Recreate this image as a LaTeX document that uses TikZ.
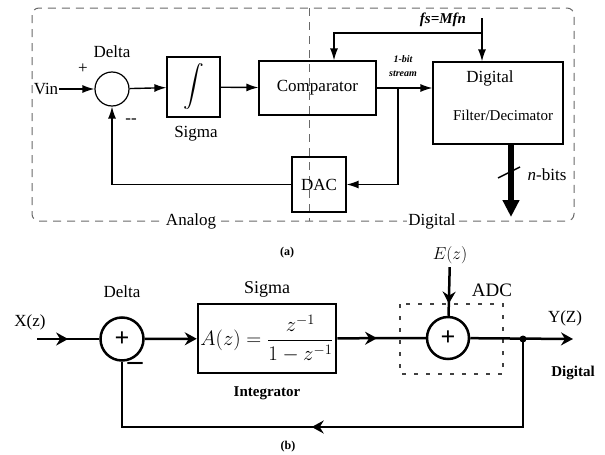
\documentclass[tikz,border=0pt]{standalone}
\usepackage{amsmath}
\usepackage{fontspec}
\setmainfont{Liberation Serif}
\usetikzlibrary{arrows.meta,decorations.markings,calc}

\definecolor{bordergray}{RGB}{105,105,105}

\tikzset{
  txt/.style={font=\fontsize{17}{20}\selectfont, inner sep=1pt},
  blocka/.style={draw, line width=1.2pt, inner sep=0pt},
  sig/.style={line width=1.4pt, -{Latex[length=12pt,width=8pt]}},
  border/.style={bordergray, line width=1pt, dash pattern=on 8pt off 6pt},
  blockb/.style={draw, line width=2.5pt, inner sep=0pt},
  wireb/.style={line width=2.5pt},
  tipb/.style={-{Stealth[length=12pt,width=13pt,inset=4pt]}},
  midarr/.style={decoration={markings,
      mark=at position #1 with {\arrow{Stealth[length=12pt,width=13pt,inset=4pt]}}},
    postaction={decorate}},
  boldlbl/.style={font=\bfseries\fontsize{15}{18}\selectfont, inner sep=1pt},
}

\begin{document}
\begin{tikzpicture}[x=1pt, y=-1pt]
  \useasboundingbox (0,0) rectangle (605,455);

  % ---------------- (a) ----------------
  % Frame split into analog and digital halves
  \draw[border, rounded corners=7pt] (32,8) rectangle (574,221);
  \draw[border] (309,8) -- (309,221);
  \node[txt, fill=white] at (191,221) {Analog};
  \node[txt, fill=white] at (432,221) {Digital};

  % Blocks
  \node[circle, draw, line width=1.2pt, minimum size=34pt, inner sep=0pt] (sumA) at (112,89) {};
  \node[txt] at (112,52) {Delta};
  \node[txt] at (83,69) {+};
  \node[txt] at (131,121) {-{}-};
  \node[txt] (vin) at (46,89) {Vin};
  \node[blocka, minimum width=53pt, minimum height=60pt] (intA) at (193.5,87)
    {\fontsize{22}{22}\selectfont$\displaystyle\int$};
  \node[txt] at (196,134) {Sigma};
  \node[blocka, txt, minimum width=117pt, minimum height=54pt] (compA) at (317.5,88) {Comparator};
  \node[blocka, minimum width=130pt, minimum height=82pt] (filtA) at (498,103) {};
  \node[txt] at (490,78) {Digital};
  \node[txt, font=\fontsize{15}{18}\selectfont] at (503,115) {Filter/Decimator};
  \node[blocka, txt, minimum width=54pt, minimum height=55pt] (dacA) at (319,184.5) {DAC};

  % Signal path
  \draw[sig] (vin) -- (sumA);
  \draw[sig] (sumA) -- (intA);
  \draw[sig] (intA) -- (compA);
  \draw[sig] (compA.east) -- (compA.east -| filtA.west);
  \coordinate (br) at (398,88);
  \draw[sig] (br) |- (dacA.east);
  \draw[sig] (dacA.west) -| (sumA.south);
  \node[font=\bfseries\itshape\fontsize{10}{14}\selectfont, align=center] at (403,66) {1-bit\\stream};

  % Clock
  \coordinate (clk) at (482,18);
  \coordinate (clkT) at (482,33);
  \draw[sig] (clk) -- (clk |- filtA.north);
  \draw[sig] (clkT) -| ($(compA.north)+(16.5,0)$);
  \node[font=\bfseries\itshape\fontsize{15}{18}\selectfont] at (443,20) {fs=Mfn};

  % n-bit output
  \coordinate (nb) at (511,217);
  \draw[line width=6pt, -{Triangle[length=17pt,width=16pt]}] (filtA.south -| nb) -- (nb);
  \draw[line width=1.5pt] (498,178) -- (520,167);
  \node[txt] at (547,175) {\textit{n}-bits};
  \node[font=\bfseries\fontsize{12}{14}\selectfont] at (287,253) {(a)};

  % ---------------- (b) ----------------
  \node[circle, draw, line width=2.5pt, minimum size=43pt, inner sep=0pt,
    font=\bfseries\fontsize{26}{26}\selectfont] (sumB) at (122,339) {+};
  \node[txt] at (122,292) {Delta};
  \node[font=\bfseries\fontsize{30}{30}\selectfont, inner sep=0pt] at (135,366) {--};
  \node[txt] (xz) at (30,322) {X(z)};
  \node[blockb, minimum width=138pt, minimum height=69pt] (sigB) at (267,338.5)
    {\fontsize{20}{24}\selectfont$A(z)=\dfrac{z^{-1}}{1-z^{-1}}$};
  \node[txt, font=\fontsize{18}{20}\selectfont] at (267,289) {Sigma};
  \node[boldlbl] at (267,393) {Integrator};

  % Quantizer modelled as added noise
  \draw[black!75, line width=1.5pt, dash pattern=on 4pt off 8pt] (400,304) rectangle (503,374);
  \node[circle, draw, line width=2.5pt, minimum size=42pt, inner sep=0pt,
    font=\bfseries\fontsize{26}{26}\selectfont] (adcB) at (448,338) {+};
  \node[txt, font=\fontsize{19}{22}\selectfont] at (492,290) {ADC};
  \node[font=\fontsize{19}{22}\selectfont] (ez) at (450,255) {$E(z)$};
  \node[txt] at (565,318) {Y(Z)};
  \node[boldlbl] at (573,373) {Digital};

  % Connections
  \coordinate (xin) at (37,339);
  \coordinate (yout) at (573,339);
  \coordinate (tap) at (523,339);
  \coordinate (fbR) at (523,427);
  \coordinate (fbL) at (122,427);
  \draw[wireb, midarr=0.5] (xin) -- (sumB);
  \draw[wireb, tipb] (sumB) -- (sigB);
  \draw[wireb, midarr=0.45] (sigB) -- (adcB);
  \draw[wireb, midarr=0.75] (ez) -- (adcB);
  \draw[wireb, tipb] (adcB) -- (yout);
  \fill (tap) circle (3.5pt);
  \draw[wireb, midarr=0.54] (tap) -- (fbR) -- (fbL) -- (sumB.south);
  \node[font=\bfseries\fontsize{12}{14}\selectfont] at (288,447) {(b)};
\end{tikzpicture}
\end{document}
